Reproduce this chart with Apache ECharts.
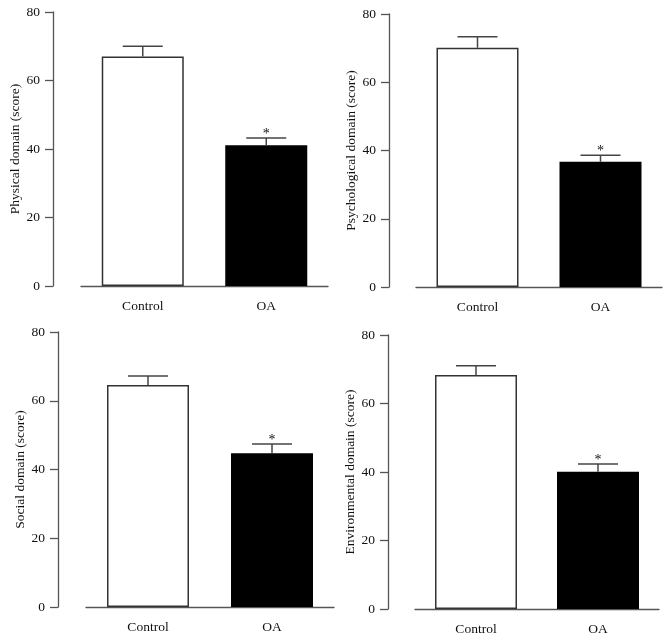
<!DOCTYPE html>
<html>
<head>
<meta charset="utf-8">
<script src="https://cdn.jsdelivr.net/npm/echarts@6/dist/echarts.min.js"></script>
<style>html,body{margin:0;padding:0;background:#fff;}#c{width:672px;height:639px;}</style>
</head>
<body>
<div id="c"></div>
<script>
const categories = ['Control', 'OA'];
const yTicks = [0, 20, 40, 60, 80];
const panelNames = ['Physical domain (score)', 'Psychological domain (score)', 'Social domain (score)', 'Environmental domain (score)'];
const physicalMean = [67.0, 41.1];
const physicalSem = [3.0, 2.1];
const psychologicalMean = [70.1, 36.7];
const psychologicalSem = [3.2, 1.9];
const socialMean = [64.6, 44.7];
const socialSem = [2.6, 2.7];
const environmentalMean = [68.3, 40.1];
const environmentalSem = [2.7, 2.2];
const significance = ['', '*'];

const means = [physicalMean, psychologicalMean, socialMean, environmentalMean];
const sems = [physicalSem, psychologicalSem, socialSem, environmentalSem];

const FONT = '"Liberation Serif", "DejaVu Serif", serif';
const AXIS = '#555';
const TEXT = '#111';

const layout = [
  {left: 81, top: 12, width: 247, height: 274, offset: 28},
  {left: 416, top: 14, width: 246, height: 273, offset: 27},
  {left: 86, top: 332, width: 248, height: 275, offset: 28},
  {left: 415, top: 335, width: 244, height: 274, offset: 27}
];

const grids = [], xAxes = [], yAxes = [], series = [];
layout.forEach((g, i) => {
  grids.push({left: g.left, top: g.top, width: g.width, height: g.height});
  xAxes.push({
    type: 'category', gridIndex: i, data: categories,
    axisLine: {lineStyle: {color: AXIS, width: 1.3}},
    axisTick: {alignWithLabel: true, length: 9, lineStyle: {color: AXIS, width: 1.3}},
    axisLabel: {fontFamily: FONT, fontSize: 13.5, color: TEXT, margin: 13}
  });
  yAxes.push({
    type: 'value', gridIndex: i, min: 0, max: 80, interval: 20, offset: g.offset,
    name: panelNames[i], nameLocation: 'middle', nameGap: 31,
    nameTextStyle: {fontFamily: FONT, fontSize: 13.5, color: TEXT},
    axisLine: {show: true, lineStyle: {color: AXIS, width: 1.3}},
    axisTick: {show: true, length: 8, lineStyle: {color: AXIS, width: 1.3}},
    axisLabel: {fontFamily: FONT, fontSize: 13.5, color: TEXT, margin: 13,
      formatter: v => yTicks.indexOf(v) >= 0 ? String(v) : ''},
    splitLine: {show: false}
  });
  series.push({
    type: 'bar', xAxisIndex: i, yAxisIndex: i, barWidth: 82,
    data: means[i].map((v, k) => ({
      value: v,
      itemStyle: k === 0
        ? {color: '#fff', borderColor: '#333', borderWidth: 1.5}
        : {color: '#000', borderColor: '#000', borderWidth: 1.5}
    })),
    z: 2
  });
  series.push({
    type: 'custom', xAxisIndex: i, yAxisIndex: i, z: 5,
    data: means[i].map((v, k) => [k, v, sems[i][k], k]),
    renderItem: function (params, api) {
      const x = api.value(0), m = api.value(1), s = api.value(2), k = api.value(3);
      const base = api.coord([x, m]);
      const top = api.coord([x, m + s]);
      const children = [
        {type: 'line', shape: {x1: base[0], y1: base[1], x2: top[0], y2: top[1]},
          style: {stroke: '#444', lineWidth: 1.5}},
        {type: 'line', shape: {x1: top[0] - 20, y1: top[1], x2: top[0] + 20, y2: top[1]},
          style: {stroke: '#444', lineWidth: 1.5}}
      ];
      if (significance[k]) {
        children.push({type: 'text', style: {text: significance[k], x: top[0], y: top[1] - 4,
          align: 'center', verticalAlign: 'middle', font: '14px ' + FONT, fill: TEXT}});
      }
      return {type: 'group', children: children};
    }
  });
});

const chart = echarts.init(document.getElementById('c'), null, {renderer: 'canvas'});
chart.setOption({
  animation: false,
  backgroundColor: '#fff',
  grid: grids, xAxis: xAxes, yAxis: yAxes, series: series
});
</script>
</body>
</html>
